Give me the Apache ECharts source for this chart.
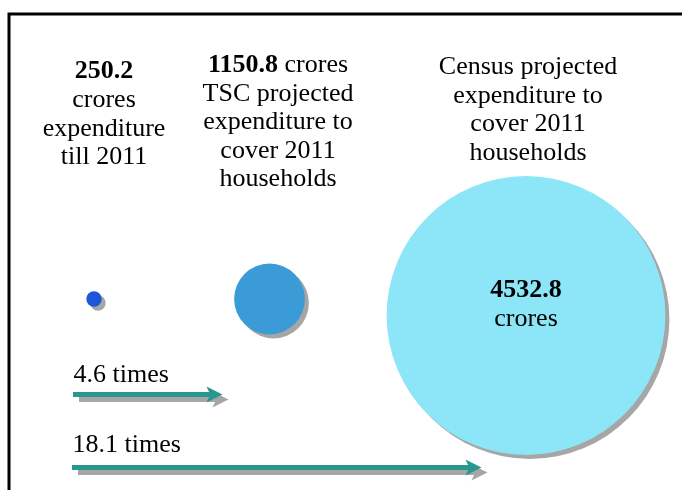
<!DOCTYPE html>
<html>
<head>
<meta charset="utf-8">
<script src="https://cdn.jsdelivr.net/npm/echarts@6/dist/echarts.min.js"></script>
<style>
  html, body { margin: 0; padding: 0; background: #ffffff; }
  #chart { width: 682px; height: 490px; }
</style>
</head>
<body>
<div id="chart"></div>
<script>
// Sanitation expenditure, in crores
const stages = ['Till 2011', 'TSC projection', 'Census projection'];
const crores = [250.2, 1150.8, 4532.8];
const bubbleColors = ['#1f55d8', '#3a9bd6', '#8ce6f8'];

// Caption text under each figure
const captionLines = [
  ['crores', 'expenditure', 'till 2011'],
  ['TSC projected', 'expenditure to', 'cover 2011', 'households'],
  ['Census projected', 'expenditure to', 'cover 2011', 'households']
];

// Layout of the infographic on a plain 660 x 465 canvas axis (y grows downward)
const bubbleSlots = [[85, 285], [260.5, 285], [517, 301.5]];
const captionSlots = [[95, 100.5], [269, 108.5], [519, 96]];
const arrowSlots = [
  { from: [64, 380.5], to: [205.5, 380.5], label: [64, 361] },
  { from: [63, 453.5], to: [464.5, 453.5], label: [63, 431] }
];

const FONT = "'Liberation Serif', 'Times New Roman', serif";
const SIZE_PER_CRORE = 0.0615;
const TEAL = '#2a9690';
const SHADOW = '#a6a6a6';
const ARROW_HEAD = 'path://M7,0 L14,15 L7,11.5 L0,15 Z';

const rich = {
  b: { fontFamily: FONT, fontSize: 26, fontWeight: 'bold', color: '#000', lineHeight: 28.5 },
  r: { fontFamily: FONT, fontSize: 26, color: '#000', lineHeight: 28.5 }
};

function captionText(i) {
  const lines = captionLines[i].map(t => '{r|' + t + '}');
  if (i === 0) lines.unshift('{b|' + crores[0] + '}');
  if (i === 1) lines.unshift('{b|' + crores[1] + '}{r| crores}');
  return lines.join('\n');
}

// Ratios of the projections to the spend till 2011
const ratios = [crores[1] / crores[0], crores[2] / crores[0]];

function arrowSeries(gridIndex, color, z) {
  return {
    type: 'lines',
    coordinateSystem: 'cartesian2d',
    xAxisIndex: gridIndex,
    yAxisIndex: gridIndex,
    symbol: ['none', ARROW_HEAD],
    symbolSize: 16,
    lineStyle: { color: color, width: 5, opacity: 1, curveness: 0 },
    data: arrowSlots.map(a => ({ coords: [a.from, a.to] })),
    silent: true,
    z: z
  };
}

// Invisible anchor points that only carry text
const textOnly = { color: 'rgba(0,0,0,0)', opacity: 1 };

const chart = echarts.init(document.getElementById('chart'), null, { renderer: 'canvas' });

chart.setOption({
  animation: false,
  backgroundColor: '#ffffff',
  grid: [
    { left: 9, top: 14, width: 660, height: 465, show: false },
    // drop-shadow layer for the arrows, shifted right and down
    { left: 15, top: 19, width: 660, height: 465, show: false }
  ],
  xAxis: [
    { type: 'value', min: 0, max: 660, show: false, gridIndex: 0 },
    { type: 'value', min: 0, max: 660, show: false, gridIndex: 1 }
  ],
  yAxis: [
    { type: 'value', min: 0, max: 465, inverse: true, show: false, gridIndex: 0 },
    { type: 'value', min: 0, max: 465, inverse: true, show: false, gridIndex: 1 }
  ],
  graphic: [{
    type: 'polyline',
    shape: { points: [[9, 490], [9, 14], [682, 14]] },
    style: { stroke: '#000000', lineWidth: 3, fill: null },
    z: 10
  }],
  series: [
    {
      name: 'Expenditure',
      type: 'scatter',
      symbol: 'circle',
      data: crores.map((v, i) => ({
        name: stages[i],
        value: [bubbleSlots[i][0], bubbleSlots[i][1], v],
        symbolSize: v * SIZE_PER_CRORE,
        itemStyle: {
          color: bubbleColors[i], opacity: 1,
          shadowColor: SHADOW, shadowBlur: 0, shadowOffsetX: 4, shadowOffsetY: 4
        },
        label: i === 2 ? {
          show: true,
          position: 'inside',
          offset: [0, -11],
          formatter: '{b|' + v + '}\n{r|crores}',
          rich: rich
        } : { show: false }
      })),
      silent: true,
      z: 2
    },
    {
      name: 'Captions',
      type: 'scatter',
      symbol: 'circle',
      symbolSize: 1,
      itemStyle: textOnly,
      data: captionSlots.map((p, i) => ({
        value: p,
        label: {
          show: true,
          position: 'inside',
          align: 'center',
          formatter: captionText(i),
          rich: rich
        }
      })),
      silent: true,
      z: 3
    },
    arrowSeries(1, SHADOW, 1),
    arrowSeries(0, TEAL, 2),
    {
      name: 'Ratio labels',
      type: 'scatter',
      symbol: 'circle',
      symbolSize: 1,
      itemStyle: textOnly,
      data: arrowSlots.map((a, i) => ({
        value: a.label,
        label: {
          show: true,
          position: 'right',
          distance: 0,
          formatter: ratios[i].toFixed(1) + ' times',
          fontFamily: FONT, fontSize: 26, color: '#000'
        }
      })),
      silent: true,
      z: 3
    }
  ]
});
</script>
</body>
</html>
